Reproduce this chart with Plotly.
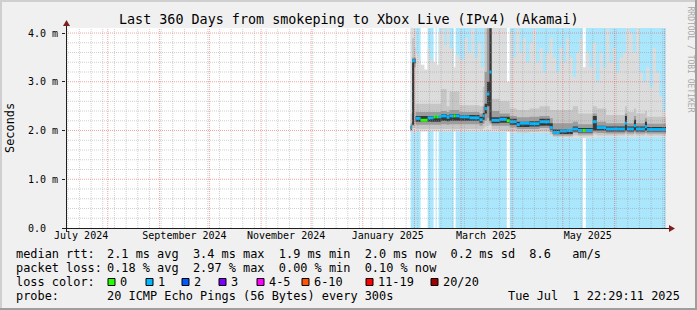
import pandas as pd
import plotly.graph_objects as go

# ---------------------------------------------------------------- data
T_START = "2024-07-06 22:29:11"
T_END = "2025-07-01 22:29:11"
DAY0 = pd.Timestamp("2025-01-01")      # all day offsets below count from here
DATA_END = 181.94                       # last sample (day offset)
Y_TOP = 4.103                           # ms

y_tick_vals = [0, 1, 2, 3, 4]
y_tick_text = ["0.0\u00a0\u00a0", "1.0 m", "2.0 m", "3.0 m", "4.0 m"]
x_label_months = ["2024-07-01", "2024-09-01", "2024-11-01",
                  "2025-01-01", "2025-03-01", "2025-05-01"]
x_label_text = ["July 2024", "September 2024", "November 2024",
                "January 2025", "March 2025", "May 2025"]

# loss (1 = some packet loss in interval, 0 = none); interval starts
loss_days = [28.7, 34.7, 38.9, 42.5, 43.7, 44.3, 45.5, 54.5, 55.7, 86.4, 88.2, 132.0, 133.8]
loss_flag = [1, 0, 1, 0, 1, 0, 1, 0, 1, 0, 1, 0, 1]

# median rtt (ms), step series
median_days = [28.7, 29.6, 31.7, 34.7, 38.9, 42.5, 47.0, 50.3, 52.0, 58.0,
               64.0, 70.0, 72.0, 73.1, 74.5, 76.0, 77.3, 82.0, 86.4, 88.2,
               92.4, 94.2, 100.0, 106.0, 112.2, 114.0, 118.2, 122.4, 126.0, 129.1,
               138.0, 140.4, 146.0, 157.3, 158.5, 162.7, 163.9, 169.3, 170.5]
median_ms = [2.06, 3.43, 2.25, 2.21, 2.26, 2.28, 2.30, 2.27, 2.30, 2.28,
             2.26, 2.22, 2.30, 2.45, 2.75, 3.20, 2.21, 2.23, 2.20, 2.18,
             2.12, 2.15, 2.14, 2.18, 2.06, 1.96, 1.99, 2.00, 2.03, 2.00,
             2.18, 2.06, 2.03, 2.15, 2.03, 2.10, 2.03, 2.08, 2.02]

# outer smoke: max ping (ms)
max_days = [28.7, 29.6, 31.7, 33.0, 34.7, 37.0, 38.9, 40.1, 42.5, 43.7,
            44.3, 45.5, 47.0, 49.0, 50.3, 52.0, 54.5, 55.7, 58.0, 61.0,
            63.0, 65.0, 67.0, 69.0, 71.0, 73.0, 74.0, 77.9, 82.0, 86.4,
            88.2, 90.0, 92.0, 94.0, 96.0, 98.0, 100.0, 102.0, 104.0, 106.0,
            108.0, 110.0, 112.0, 114.0, 116.0, 118.0, 120.0, 122.0, 124.0, 126.0,
            128.0, 130.0, 132.0, 133.8, 136.0, 138.0, 140.0, 142.0, 144.0, 146.0,
            148.0, 150.0, 152.0, 154.0, 156.0, 158.0, 160.0, 162.0, 164.0, 166.0,
            168.0, 170.0, 172.0, 174.0, 176.0, 178.0, 180.0]
max_ms = [4.10, 4.10, 3.60, 3.50, 3.35, 3.25, 3.70, 3.45, 3.40, 3.60,
          3.35, 4.00, 4.10, 3.75, 4.10, 3.70, 3.30, 3.55, 3.45, 3.90,
          3.60, 4.10, 3.50, 3.80, 3.30, 3.90, 4.10, 4.10, 4.10, 3.00,
          4.00, 3.50, 4.10, 3.60, 3.90, 3.40, 3.80, 4.10, 3.40, 3.70,
          3.20, 3.60, 3.90, 3.50, 3.20, 3.70, 3.40, 3.90, 3.50, 3.10,
          3.60, 3.90, 3.30, 3.60, 3.30, 3.80, 3.00, 3.60, 3.30, 4.10,
          3.40, 3.70, 3.20, 3.50, 3.60, 4.10, 4.00, 3.60, 4.10, 3.20,
          3.00, 3.30, 2.90, 3.70, 3.20, 2.70, 2.40]

# outer smoke: min ping (ms)
min_days = [28.7, 31.7, 77.3, 88.2, 112.2, 118.2, 140.4]
min_ms = [1.96, 1.98, 1.97, 1.95, 1.88, 1.84, 1.86]

# inner smoke bands (ms), shared interval starts
band_days = [28.7, 29.6, 30.8, 31.7, 47.0, 50.3, 52.0, 58.0, 70.0, 72.0,
             73.1, 74.5, 76.0, 77.3, 82.0, 88.2, 92.4, 100.0, 106.0, 112.2,
             114.0, 126.0, 129.1, 138.0, 140.4, 146.0, 157.3, 158.5, 162.7, 163.9,
             169.3, 170.5]
b2_lo = [1.98, 2.05, 2.05, 2.03, 2.03, 2.03, 2.03, 2.03, 2.02, 2.04,
         2.08, 2.10, 2.12, 2.02, 2.00, 1.98, 1.96, 1.97, 1.98, 1.92,
         1.87, 1.90, 1.88, 1.92, 1.90, 1.90, 1.92, 1.90, 1.92, 1.90,
         1.92, 1.90]
b2_hi = [2.35, 3.90, 3.70, 2.55, 2.85, 2.50, 2.80, 2.52, 2.50, 2.90,
         4.10, 4.10, 4.10, 2.65, 2.60, 2.45, 2.42, 2.45, 2.50, 2.42,
         2.42, 2.50, 2.35, 2.50, 2.45, 2.32, 2.50, 2.38, 2.45, 2.35,
         2.40, 2.28]
b3_lo = [2.00, 2.10, 3.30, 2.12, 2.13, 2.12, 2.13, 2.13, 2.10, 2.14,
         2.20, 2.25, 2.15, 2.10, 2.10, 2.06, 2.03, 2.03, 2.05, 1.97,
         1.90, 1.95, 1.92, 1.96, 1.95, 1.94, 1.96, 1.94, 1.96, 1.94,
         1.95, 1.94]
b3_hi = [2.15, 3.50, 3.50, 2.38, 2.40, 2.38, 2.42, 2.38, 2.35, 2.50,
         3.20, 4.10, 4.10, 2.40, 2.35, 2.30, 2.27, 2.28, 2.30, 2.25,
         2.15, 2.18, 2.13, 2.35, 2.18, 2.15, 2.35, 2.15, 2.30, 2.15,
         2.25, 2.14]
b4_lo = [2.02, 2.12, 3.38, 2.18, 2.20, 2.19, 2.20, 2.20, 2.16, 2.22,
         2.35, 2.50, 2.20, 2.15, 2.16, 2.12, 2.07, 2.08, 2.10, 2.02,
         1.93, 1.98, 1.96, 2.00, 2.00, 1.98, 2.00, 1.98, 2.00, 1.98,
         2.00, 1.98]
b4_hi = [2.10, 3.46, 3.47, 2.30, 2.34, 2.31, 2.34, 2.32, 2.28, 2.36,
         2.55, 3.00, 4.10, 2.27, 2.28, 2.24, 2.18, 2.19, 2.24, 2.15,
         2.02, 2.08, 2.05, 2.30, 2.10, 2.08, 2.30, 2.08, 2.22, 2.08,
         2.18, 2.07]

legend_loss_labels = ["0", "1", "2", "3", "4-5", "6-10", "11-19", "20/20"]
legend_loss_colors = ["#26ff00", "#00b8ff", "#0059ff", "#7e00ff",
                      "#ff00ff", "#ff5500", "#ff0000", "#a10000"]
LOSS_BG = "#aae6fc"

# ---------------------------------------------------------------- geometry
W, H = 697, 310
ML, MR, MT, MB = 66, 31, 28, 82
PW, PH = W - ML - MR, H - MT - MB
MONO = "DejaVu Sans Mono"


def fx(px):
    return (px - ML) / PW


def fy(py):
    return (H - MB - py) / PH


def ts(d):
    return DAY0 + pd.Timedelta(days=d)


def step_xy(days, vals):
    xs = [ts(d) for d in days] + [ts(DATA_END)]
    ys = list(vals) + [vals[-1]]
    return xs, ys


def value_at(days, vals, t):
    idx = 0
    for i, d in enumerate(days):
        if d <= t + 1e-9:
            idx = i
    return vals[idx]


fig = go.Figure()

# loss background
lx, ly = step_xy(loss_days, [Y_TOP if f else 0 for f in loss_flag])
fig.add_trace(go.Scatter(x=lx, y=ly, mode="lines", line=dict(width=0, shape="hv"),
                         fill="tozeroy", fillcolor=LOSS_BG, hoverinfo="skip"))


def band(lo_days, lo_vals, hi_days, hi_vals, color):
    x1, y1 = step_xy(lo_days, lo_vals)
    x2, y2 = step_xy(hi_days, hi_vals)
    fig.add_trace(go.Scatter(x=x1, y=y1, mode="lines", line=dict(width=0, shape="hv"),
                             hoverinfo="skip"))
    fig.add_trace(go.Scatter(x=x2, y=y2, mode="lines", line=dict(width=0, shape="hv"),
                             fill="tonexty", fillcolor=color, hoverinfo="skip"))


band(min_days, min_ms, max_days, max_ms, "#dcdcdc")
band(band_days, b2_lo, band_days, b2_hi, "#c6c6c6")
band(band_days, b3_lo, band_days, b3_hi, "#9c9c9c")
band(band_days, b4_lo, band_days, b4_hi, "#383838")

# median line, coloured by loss
bps = sorted(set(loss_days + median_days + [DATA_END]))
seg = {0: ([], []), 1: ([], [])}
for a, b in zip(bps[:-1], bps[1:]):
    m = value_at(median_days, median_ms, a)
    f = value_at(loss_days, loss_flag, a)
    sx, sy = seg[f]
    sx += [ts(a), ts(b), None]
    sy += [m, m, None]
for f, col in ((1, legend_loss_colors[1]), (0, legend_loss_colors[0])):
    fig.add_trace(go.Scatter(x=seg[f][0], y=seg[f][1], mode="lines",
                             line=dict(width=3, color=col), hoverinfo="skip"))

# grid (drawn on top, like rrdtool)
weeks = pd.date_range("2024-07-07", "2025-07-01", freq="W-MON")
months = pd.date_range("2024-07-07", "2025-07-01", freq="MS")
gx, gy = [], []
for t in weeks:
    if t not in months:
        gx += [t, t, None]
        gy += [0, Y_TOP, None]
t0, t1 = pd.Timestamp(T_START), pd.Timestamp(T_END)
for i in range(1, 21):
    if i % 5:
        gx += [t0, t1, None]
        gy += [i * 0.2, i * 0.2, None]
fig.add_trace(go.Scatter(x=gx, y=gy, mode="lines", hoverinfo="skip",
                         line=dict(width=1, color="rgba(150,150,150,0.45)", dash="1px,1px")))
mx, my = [], []
for t in months:
    mx += [t, t, None]
    my += [0, Y_TOP, None]
for v in y_tick_vals[1:]:
    mx += [t0, t1, None]
    my += [v, v, None]
fig.add_trace(go.Scatter(x=mx, y=my, mode="lines", hoverinfo="skip",
                         line=dict(width=1, color="rgba(225,80,80,0.5)", dash="1px,1px")))

# ---------------------------------------------------------------- layout
label_pos = [pd.Timestamp(m) + pd.Timedelta(days=15) for m in x_label_months]
fig.update_layout(
    width=W, height=H, margin=dict(l=ML, r=MR, t=MT, b=MB),
    paper_bgcolor="#f0f0f0", plot_bgcolor="#ffffff", showlegend=False,
    font=dict(family=MONO, color="#000000"),
    xaxis=dict(type="date", range=[T_START, T_END], showgrid=False, zeroline=False,
               showline=False, tickvals=label_pos, ticktext=x_label_text, ticks="",
               tickfont=dict(size=10, family=MONO, color="#000")),
    yaxis=dict(range=[0, Y_TOP], showgrid=False, zeroline=False, showline=False,
               tickvals=y_tick_vals, ticktext=y_tick_text, ticks="outside", ticklen=3,
               ticklabelstandoff=2,
               tickcolor="#1f1f1f", tickfont=dict(size=10, family=MONO, color="#000")),
)

shapes = []
# frame shading
shapes.append(dict(type="rect", xref="paper", yref="paper", x0=fx(0), x1=fx(W), y0=fy(0), y1=fy(2),
                   fillcolor="#cfcfcf", line=dict(width=0)))
shapes.append(dict(type="rect", xref="paper", yref="paper", x0=fx(0), x1=fx(2), y0=fy(0), y1=fy(H),
                   fillcolor="#cfcfcf", line=dict(width=0)))
shapes.append(dict(type="rect", xref="paper", yref="paper", x0=fx(0), x1=fx(W), y0=fy(H - 2), y1=fy(H),
                   fillcolor="#9e9e9e", line=dict(width=0)))
shapes.append(dict(type="rect", xref="paper", yref="paper", x0=fx(W - 2), x1=fx(W), y0=fy(0), y1=fy(H),
                   fillcolor="#9e9e9e", line=dict(width=0)))
# axes + arrows
shapes.append(dict(type="line", xref="paper", yref="paper", x0=fx(62), x1=fx(670), y0=fy(228.5), y1=fy(228.5),
                   line=dict(color="#1f1f1f", width=1), layer="above"))
shapes.append(dict(type="line", xref="paper", yref="paper", x0=fx(66.5), x1=fx(66.5), y0=fy(232), y1=fy(24),
                   line=dict(color="#1f1f1f", width=1), layer="above"))
shapes.append(dict(type="path", xref="paper", yref="paper",
                   path=f"M {fx(66.5)} {fy(20)} L {fx(63)} {fy(26)} L {fx(70)} {fy(26)} Z",
                   fillcolor="#801f1f", line=dict(width=0), layer="above"))
shapes.append(dict(type="path", xref="paper", yref="paper",
                   path=f"M {fx(675)} {fy(228.5)} L {fx(669)} {fy(225)} L {fx(669)} {fy(232)} Z",
                   fillcolor="#801f1f", line=dict(width=0), layer="above"))

# legend boxes
box_x = [108, 146, 182, 219, 257, 302, 366, 431]
for bx, col in zip(box_x, legend_loss_colors):
    shapes.append(dict(type="rect", xref="paper", yref="paper", x0=fx(bx), x1=fx(bx + 7),
                       y0=fy(278.5), y1=fy(285.5), fillcolor=col,
                       line=dict(color="#000000", width=1)))
fig.update_layout(shapes=shapes)

NB = "\u00a0"


def txt(s):
    return s.replace(" ", NB)


ann = []


def add_text(px, py, s, size, xanchor="left", color="#000000", angle=0):
    ann.append(dict(xref="paper", yref="paper", x=fx(px), y=fy(py), text=txt(s),
                    showarrow=False, xanchor=xanchor, yanchor="middle", textangle=angle,
                    font=dict(family=MONO, size=size, color=color), borderpad=0, borderwidth=0))


LEG = 11.9
add_text(348.5, 19, "Last 360 Days from smokeping to Xbox Live (IPv4) (Akamai)", 13.4, "center")
add_text(10, 128, "Seconds", 11.9, "center", angle=-90)
add_text(690, 59.5, "RRDTOOL / TOBI OETIKER", 8, "center", color="#a8a8a8", angle=90)
rows = [253.5, 268, 282, 296]
add_text(16, rows[0], "median rtt:", LEG)
add_text(107, rows[0], "2.1 ms avg  3.4 ms max  1.9 ms min  2.0 ms now  0.2 ms sd  8.6   am/s", LEG)
add_text(16, rows[1], "packet loss:", LEG)
add_text(107, rows[1], "0.18 % avg  2.97 % max  0.00 % min  0.10 % now", LEG)
add_text(16, rows[2], "loss color:", LEG)
for bx, lab in zip(box_x, legend_loss_labels):
    add_text(bx + 12, rows[2], lab, LEG)
add_text(16, rows[3], "probe:", LEG)
add_text(107, rows[3], "20 ICMP Echo Pings (56 Bytes) every 300s", LEG)
add_text(508, rows[3], "Tue Jul  1 22:29:11 2025", LEG)
fig.update_layout(annotations=ann)

fig.write_html("out.html")
